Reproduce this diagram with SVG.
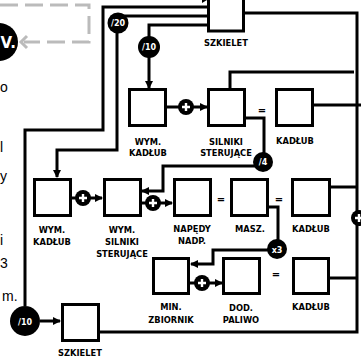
<svg xmlns="http://www.w3.org/2000/svg" width="361" height="359" viewBox="0 0 361 359">
<defs>
<style>
.box{fill:#fff;stroke:#000;stroke-width:3}
.ln{fill:none;stroke:#000;stroke-width:3}
.lbl{font-family:"DejaVu Sans",sans-serif;font-weight:bold;font-size:8.3px;text-anchor:middle;fill:#000}
.cl{font-family:"DejaVu Sans",sans-serif;font-weight:bold;font-size:8px;text-anchor:middle;fill:#fff}
.eq{font-family:"DejaVu Sans",sans-serif;font-weight:bold;font-size:10px;text-anchor:middle;fill:#000}
.frag{font-family:"Liberation Sans",sans-serif;font-size:14px;fill:#000}
.plus{stroke:#fff;stroke-width:2.4}
</style>
<marker id="ah" viewBox="0 0 8 8" refX="7" refY="4" markerWidth="8" markerHeight="8" markerUnits="userSpaceOnUse" orient="auto">
<path d="M0,0 L8,4 L0,8 Z" fill="#000"/>
</marker>
<g id="pl">
<circle r="8" fill="#000"/>
<path class="plus" d="M-4,0 H4 M0,-4 V4"/>
</g>
</defs>
<rect width="361" height="359" fill="#fff"/>

<g id="fragments">
<text class="frag" x="0" y="92">o</text>
<text class="frag" x="0" y="152">l</text>
<text class="frag" x="0" y="181">y</text>
<text class="frag" x="0" y="245">i</text>
<text class="frag" x="0" y="268">3</text>
<text class="frag" x="2" y="301">m.</text>
</g>

<g id="dashed">
<path d="M0,5 H89 V42 H24" fill="none" stroke="#bbb" stroke-width="3" stroke-dasharray="18 7"/>
<polyline points="27,36 21,42 27,48" fill="none" stroke="#bbb" stroke-width="3"/>
</g>
<g id="badge">
<circle cx="-1" cy="42" r="19" fill="#000"/>
<text x="0.5" y="48" font-family="DejaVu Sans,sans-serif" font-weight="bold" font-size="15" fill="#fff">V.</text>
</g>

<g id="connectors">
<path class="ln" d="M207,7 H103 V130 H25 V306"/>
<path class="ln" d="M40,321 H60" marker-end="url(#ah)"/>
<path class="ln" d="M207,16 H117 V150 H57 V177" marker-end="url(#ah)"/>
<path class="ln" d="M207,25 H149 V88" marker-end="url(#ah)"/>
<path class="ln" d="M244,13 H357 V332 H100"/>
<path class="ln" d="M230,88 V72 H354"/>
<path class="ln" d="M314,105 H361"/>
<path class="ln" d="M331,187 H357"/>
<path class="ln" d="M330,278 H357"/>
<path class="ln" d="M167,107 H207" marker-end="url(#ah)"/>
<path class="ln" d="M245,118 H264 V160"/>
<path class="ln" d="M262,166 H163 V191 H142" marker-end="url(#ah)"/>
<path class="ln" d="M72,198 H102" marker-end="url(#ah)"/>
<path class="ln" d="M142,203 H172" marker-end="url(#ah)"/>
<path class="ln" d="M269,207 H278 V248"/>
<path class="ln" d="M272,250 H213 V264 H191" marker-end="url(#ah)"/>
<path class="ln" d="M190,283 H222" marker-end="url(#ah)"/>
<path d="M202,-3 L207,0 L202,3 Z" fill="#000"/>
<use href="#pl" x="186" y="107"/>
<use href="#pl" x="83" y="198"/>
<use href="#pl" x="153" y="203"/>
<use href="#pl" x="202" y="283"/>
<use href="#pl" x="359" y="218"/>
</g>

<g id="counters">
<circle cx="118" cy="23" r="10.5" fill="#000"/><text class="cl" x="118" y="26">/20</text>
<circle cx="149" cy="47" r="11" fill="#000"/><text class="cl" x="149" y="50">/10</text>
<circle cx="263" cy="162" r="10" fill="#000"/><text class="cl" x="263" y="165">/4</text>
<circle cx="277" cy="249" r="10" fill="#000"/><text class="cl" x="277" y="253" font-size="9">x3</text>
<circle cx="25" cy="321" r="15" fill="#000"/><text class="cl" x="25" y="325" font-size="11">/10</text>
</g>

<g id="n-szkielet-top"><rect class="box" x="208.5" y="-6" width="35" height="37"/><text class="lbl" x="226" y="46">SZKIELET</text></g>
<g id="n-wymkadlub1"><rect class="box" x="129.5" y="89.5" width="36" height="36"/><text class="lbl" x="148" y="145">WYM.</text><text class="lbl" x="148" y="156">KADŁUB</text></g>
<g id="n-silniki"><rect class="box" x="208.5" y="89.5" width="36" height="36"/><text class="lbl" x="226" y="145">SILNIKI</text><text class="lbl" x="226" y="156">STERUJĄCE</text></g>
<g id="n-kadlub1"><rect class="box" x="276.5" y="89.5" width="36" height="36"/><text class="lbl" x="295" y="144">KADŁUB</text></g>
<text class="eq" x="262" y="114">=</text>

<g id="n-wymkadlub2"><rect class="box" x="34.5" y="179.5" width="36" height="36"/><text class="lbl" x="52" y="233">WYM.</text><text class="lbl" x="52" y="245">KADŁUB</text></g>
<g id="n-wymsilniki"><rect class="box" x="104.5" y="179.5" width="36" height="36"/><text class="lbl" x="122" y="233">WYM.</text><text class="lbl" x="122" y="245">SILNIKI</text><text class="lbl" x="122" y="257">STERUJĄCE</text></g>
<g id="n-napedy"><rect class="box" x="174.5" y="179.5" width="36" height="36"/><text class="lbl" x="192" y="232">NAPĘDY</text><text class="lbl" x="192" y="244">NADP.</text></g>
<g id="n-masz"><rect class="box" x="231.5" y="179.5" width="36" height="36"/><text class="lbl" x="250" y="232">MASZ.</text></g>
<g id="n-kadlub2"><rect class="box" x="292.5" y="179.5" width="37" height="36"/><text class="lbl" x="311" y="232">KADŁUB</text></g>
<text class="eq" x="221" y="203">=</text>
<text class="eq" x="279" y="203">=</text>

<g id="n-minzb"><rect class="box" x="153.5" y="258.5" width="35" height="35"/><text class="lbl" x="171" y="310">MIN.</text><text class="lbl" x="171" y="323">ZBIORNIK</text></g>
<g id="n-dod"><rect class="box" x="223.5" y="258.5" width="36" height="35"/><text class="lbl" x="241" y="311">DOD.</text><text class="lbl" x="241" y="323">PALIWO</text></g>
<g id="n-kadlub3"><rect class="box" x="293.5" y="258.5" width="35" height="35"/><text class="lbl" x="311" y="310">KADŁUB</text></g>
<text class="eq" x="276" y="278">=</text>

<g id="n-szkielet-bot"><rect class="box" x="62.5" y="304.5" width="36" height="36"/><text class="lbl" x="80" y="356">SZKIELET</text></g>
</svg>
